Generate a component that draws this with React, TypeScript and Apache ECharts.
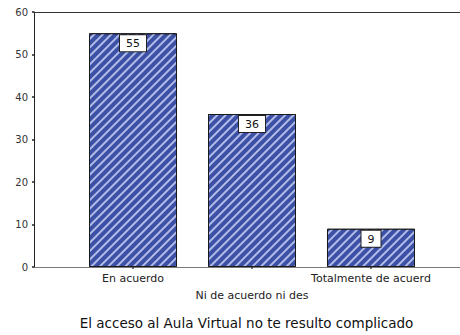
import React, { useEffect, useRef } from "react";
import * as echarts from "echarts";

const categories = ["En acuerdo", "Ni de acuerdo ni des", "Totalmente de acuerd"];
const counts = [55, 36, 9];
const yTicks = { min: 0, max: 60, interval: 10 };
const chartTitle = "El acceso al Aula Virtual no te resulto complicado";

const FONT = "DejaVu Sans";

export default function App() {
  const ref = useRef<HTMLDivElement>(null);

  useEffect(() => {
    if (!ref.current) return;
    const chart = echarts.init(ref.current, null, { renderer: "svg" });

    chart.setOption({
      animation: false,
      backgroundColor: "#ffffff",
      textStyle: { fontFamily: FONT },
      grid: [
        // frame: left axis, baseline and top border
        { left: 34, top: 12, width: 436, height: 255 },
        // inner band holding the three bars
        { left: 73.5, top: 12, width: 357, height: 255 },
      ],
      xAxis: [
        {
          type: "value",
          gridIndex: 0,
          position: "bottom",
          min: 0,
          max: 1,
          axisLine: { show: true, lineStyle: { color: "#7a7a7a", width: 1 } },
          axisTick: { show: false },
          axisLabel: { show: false },
          splitLine: { show: false },
        },
        {
          type: "value",
          gridIndex: 0,
          position: "top",
          min: 0,
          max: 1,
          axisLine: { show: true, lineStyle: { color: "#333333", width: 1 } },
          axisTick: { show: false },
          axisLabel: { show: false },
          splitLine: { show: false },
        },
        {
          type: "category",
          gridIndex: 1,
          data: categories,
          axisLine: { show: false },
          axisTick: {
            show: true,
            alignWithLabel: true,
            length: 2,
            lineStyle: { color: "#444444", width: 1.5 },
          },
          axisLabel: {
            interval: 0,
            margin: 3,
            fontFamily: FONT,
            fontSize: 11,
            lineHeight: 17,
            color: "#222222",
            formatter: (v: string, i: number) => (i % 2 === 1 ? "\n" + v : v),
          },
        },
      ],
      yAxis: [
        {
          type: "value",
          gridIndex: 0,
          min: yTicks.min,
          max: yTicks.max,
          interval: yTicks.interval,
          axisLine: { show: true, lineStyle: { color: "#222222", width: 1 } },
          axisTick: { show: true, length: 2, lineStyle: { color: "#222222", width: 1.5 } },
          axisLabel: { fontFamily: FONT, fontSize: 10, color: "#333333", margin: 6 },
          splitLine: { show: false },
        },
        {
          type: "value",
          gridIndex: 1,
          min: yTicks.min,
          max: yTicks.max,
          interval: yTicks.interval,
          show: false,
        },
      ],
      series: [
        {
          type: "bar",
          xAxisIndex: 2,
          yAxisIndex: 1,
          data: counts,
          barWidth: 88,
          itemStyle: {
            color: "#3c50a6",
            borderColor: "#1a1a1a",
            borderWidth: 1,
            decal: {
              symbol: "rect",
              symbolSize: 1,
              dashArrayX: [1, 0],
              dashArrayY: [1.5, 4],
              rotation: -Math.PI / 4,
              color: "rgba(205, 214, 248, 0.8)",
            },
          },
          label: {
            show: true,
            position: "insideTop",
            distance: 2,
            fontFamily: FONT,
            fontSize: 11,
            color: "#111111",
            backgroundColor: "#ffffff",
            borderColor: "#222222",
            borderWidth: 1,
            padding: [3, 6, 2, 6],
          },
        },
      ],
      graphic: [
        {
          type: "text",
          x: 246.5,
          y: 323,
          style: {
            text: chartTitle,
            fontFamily: FONT,
            fontSize: 13.5,
            fill: "#111111",
            align: "center",
            verticalAlign: "middle",
          },
        },
      ],
    });

    return () => chart.dispose();
  }, []);

  return (
    <div
      ref={ref}
      style={{ position: "fixed", left: 0, top: 0, width: 460, height: 335 }}
    />
  );
}
